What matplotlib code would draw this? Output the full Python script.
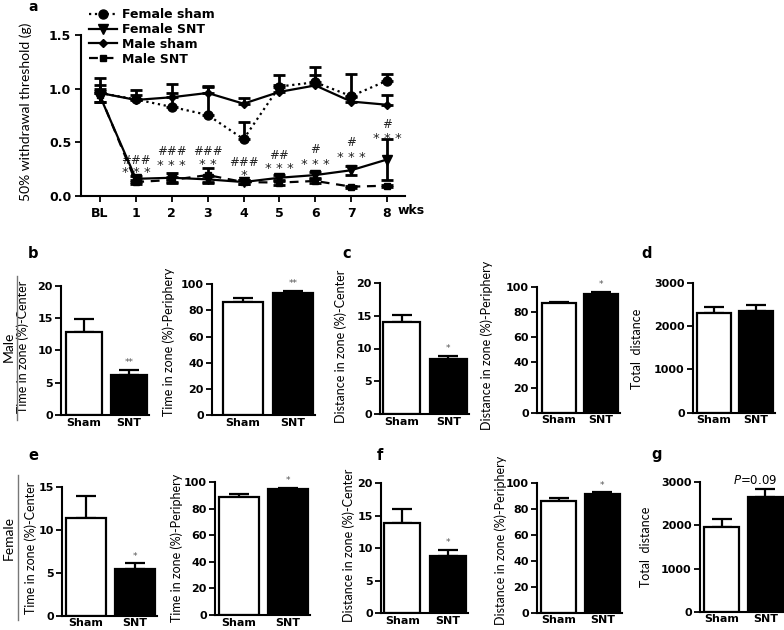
import matplotlib
matplotlib.use("Agg")
import matplotlib.pyplot as plt
from matplotlib.lines import Line2D

# ---------------- data ----------------
weeks = ["BL", "1", "2", "3", "4", "5", "6", "7", "8"]
female_sham = [0.96, 0.90, 0.83, 0.755, 0.53, 1.02, 1.06, 0.93, 1.075]
female_sham_err = [0.14, 0.09, 0.21, 0.27, 0.16, 0.11, 0.14, 0.21, 0.065]
female_snt = [0.93, 0.16, 0.17, 0.155, 0.13, 0.17, 0.195, 0.24, 0.34]
female_snt_err = [0.05, 0.03, 0.04, 0.03, 0.02, 0.03, 0.03, 0.04, 0.19]
male_sham = [0.96, 0.895, 0.92, 0.96, 0.86, 0.97, 1.03, 0.88, 0.85]
male_sham_err = [0.07, 0.05, 0.04, 0.06, 0.05, 0.06, 0.10, 0.04, 0.09]
male_snt = [0.94, 0.13, 0.15, 0.195, 0.13, 0.125, 0.14, 0.087, 0.096]
male_snt_err = [0.06, 0.02, 0.03, 0.065, 0.02, 0.02, 0.02, 0.01, 0.01]
sig_hash = ["", "###", "###", "###", "###", "##", "#", "#", "#"]
sig_star = ["", "* * *", "* * *", "* *", "*", "* * *", "* * *", "* * *", "* * *"]
hash_y = [0, 0.33, 0.41, 0.41, 0.31, 0.38, 0.43, 0.50, 0.67]
star_y = [0, 0.22, 0.28, 0.29, 0.195, 0.26, 0.29, 0.36, 0.54]

groups = ["Sham", "SNT"]
male_time_center = [12.8, 6.2]
male_time_center_err = [2.05, 0.8]
male_time_periph = [86.7, 93.6]
male_time_periph_err = [2.6, 1.3]
male_dist_center = [14.0, 8.4]
male_dist_center_err = [1.1, 0.5]
male_dist_periph = [86.8, 93.9]
male_dist_periph_err = [1.0, 1.9]
male_total = [2308, 2346]
male_total_err = [140, 140]
female_time_center = [11.4, 5.43]
female_time_center_err = [2.5, 0.65]
female_time_periph = [88.7, 94.7]
female_time_periph_err = [2.3, 0.8]
female_dist_center = [13.9, 8.8]
female_dist_center_err = [2.1, 0.95]
female_dist_periph = [85.9, 91.0]
female_dist_periph_err = [2.0, 1.5]
female_total = [1972, 2652]
female_total_err = [178, 186]

# ---------------- layout helpers ----------------
W, H = 784, 630
fig = plt.figure(figsize=(W / 100, H / 100), dpi=100)

TICKFONT = dict(family="DejaVu Sans", weight="bold")
LABFONT = ["Liberation Sans Narrow", "Lato"]


def rect(l, t, r, b):
    return [l / W, 1 - b / H, (r - l) / W, (b - t) / H]


def style_axes(ax):
    for s in ("top", "right"):
        ax.spines[s].set_visible(False)
    for s in ("left", "bottom"):
        ax.spines[s].set_linewidth(1.5)


# ---------------- panel a ----------------
axa = fig.add_axes(rect(81, 35, 405, 196))
style_axes(axa)
x = list(range(len(weeks)))
axa.set_xlim(-0.53, 8.5)
axa.set_ylim(0, 1.5)

zero = [0] * len(x)
ekw = dict(fmt="none", ecolor="black", elinewidth=2, capsize=4, capthick=2, clip_on=False, zorder=3)
axa.errorbar(x, female_sham, yerr=[zero, female_sham_err], **ekw)
axa.errorbar(x, male_sham, yerr=[zero, male_sham_err], **ekw)
axa.errorbar(x, female_snt, yerr=female_snt_err, **ekw)
axa.errorbar(x, male_snt, yerr=male_snt_err, **ekw)

l1, = axa.plot(x, female_sham, color="black", ls=":", lw=1.6, marker="o", ms=6.5, zorder=4, clip_on=False)
l2, = axa.plot(x, female_snt, color="black", ls="-", lw=1.6, marker="v", ms=6.5, zorder=4, clip_on=False)
l3, = axa.plot(x, male_sham, color="black", ls="-", lw=1.6, marker="D", ms=4, zorder=4, clip_on=False)
l4, = axa.plot(x, male_snt, color="black", ls=(0, (4, 3)), lw=1.6, marker="s", ms=5, zorder=4, clip_on=False)

for i in range(len(weeks)):
    if sig_hash[i]:
        axa.text(i, hash_y[i], sig_hash[i], ha="center", va="center", fontsize=8.5, color="#222")
    if sig_star[i]:
        axa.text(i, star_y[i], sig_star[i], ha="center", va="center", fontsize=9.5, color="#222")

axa.set_xticks(x)
axa.set_xticklabels(weeks[:-1] + ["8"], **TICKFONT, fontsize=9)
axa.text(8.28, -0.135, "wks", ha="left", va="center", fontsize=9, **TICKFONT)
axa.set_yticks([0, 0.5, 1.0, 1.5])
axa.set_yticklabels(["0.0", "0.5", "1.0", "1.5"], **TICKFONT, fontsize=9)
axa.tick_params(axis="both", direction="out", length=4, width=1.3, pad=3)
axa.tick_params(axis="x", pad=4)
axa.set_ylabel("50% withdrawal threshold (g)", fontsize=10, family=LABFONT)
axa.yaxis.set_label_coords((32 - 81) / (405 - 81), 0.52)

leg = fig.legend([l1, l2, l3, l4], ["Female sham", "Female SNT", "Male sham", "Male SNT"],
                 loc="upper left", bbox_to_anchor=(89 / W, 1 - 8 / H), frameon=False,
                 handlelength=2.2, handletextpad=0.4, labelspacing=0.15,
                 prop=dict(family="DejaVu Sans", weight="bold", size=9), borderaxespad=0, borderpad=0)

fig.text(33 / W, 1 - 7 / H, "a", fontsize=10, weight="bold", family="DejaVu Sans", ha="center", va="center")


# ---------------- bar panels ----------------
def bar_panel(spine_x, top_y, sham_left, snt_right, bottom_y, vals, errs, ymax, yticks,
              ylabel, label_x, label_y, sig=None):
    ax = fig.add_axes(rect(spine_x, top_y, snt_right + 2, bottom_y))
    style_axes(ax)
    ppu = (snt_right - sham_left) / 1.8
    ax.set_xlim(-0.4 - (sham_left - spine_x) / ppu, 1.4 + 2 / ppu)
    ax.set_ylim(0, ymax)
    ax.bar([0, 1], vals, width=0.8, color=["white", "black"], edgecolor="black", linewidth=1.6, zorder=2)
    ax.errorbar([0, 1], vals, yerr=[[0, 0], errs], fmt="none", ecolor="black", elinewidth=1.6,
                capsize=7.5, capthick=1.6, clip_on=False, zorder=1)
    ax.set_xticks([0, 1])
    ax.set_xticklabels(groups, **TICKFONT, fontsize=8)
    ax.tick_params(axis="x", length=0, pad=2)
    ax.set_yticks(yticks)
    ax.set_yticklabels([str(t) for t in yticks], **TICKFONT, fontsize=8)
    ax.tick_params(axis="y", direction="out", length=4, width=1.3, pad=2)
    ax.set_ylabel(ylabel, fontsize=9, family=LABFONT)
    ax.yaxis.set_label_coords((label_x - spine_x) / (snt_right + 2 - spine_x),
                              (bottom_y - label_y) / (bottom_y - top_y))
    if sig:
        ax.annotate(sig, xy=(1, vals[1] + errs[1]), xytext=(0, 2), textcoords="offset points",
                    ha="center", va="bottom", fontsize=6.5, color="#555", annotation_clip=False)
    return ax


bar_panel(61, 285.7, 66, 147, 415, male_time_center, male_time_center_err, 20, [0, 5, 10, 15, 20],
          "Time in zone (%)-Center", 29, 347, "**")
bar_panel(212, 284.3, 223, 313, 415, male_time_periph, male_time_periph_err, 100, [0, 20, 40, 60, 80, 100],
          "Time in zone (%)-Periphery", 175, 342, "**")
bar_panel(380, 283, 383, 467, 414, male_dist_center, male_dist_center_err, 20, [0, 5, 10, 15, 20],
          "Distance in zone (%)-Center", 347, 346, "*")
bar_panel(537, 286.7, 542, 618, 412.7, male_dist_periph, male_dist_periph_err, 100, [0, 20, 40, 60, 80, 100],
          "Distance in zone (%)-Periphery", 493, 345, "*")
bar_panel(693, 282.7, 697, 773, 412.7, male_total, male_total_err, 3000, [0, 1000, 2000, 3000],
          "Total  distance", 643, 349)

bar_panel(62, 486.7, 66, 155, 615.7, female_time_center, female_time_center_err, 15, [0, 5, 10, 15],
          "Time in zone (%)-Center", 37, 548, "*")
bar_panel(215, 482.3, 219, 308, 615, female_time_periph, female_time_periph_err, 100, [0, 20, 40, 60, 80, 100],
          "Time in zone (%)-Periphery", 183, 548, "*")
bar_panel(381, 483.3, 384, 466, 613.3, female_dist_center, female_dist_center_err, 20, [0, 5, 10, 15, 20],
          "Distance in zone (%)-Center", 355, 545, "*")
bar_panel(537, 482.7, 541, 620, 612.7, female_dist_periph, female_dist_periph_err, 100, [0, 20, 40, 60, 80, 100],
          "Distance in zone (%)-Periphery", 507, 540, "*")
axg = bar_panel(700, 482.3, 704, 783, 611.7, female_total, female_total_err, 3000, [0, 1000, 2000, 3000],
                "Total  distance", 652, 547)
axg.text(0.76, 3050, r"$\mathit{P}$=0.09", ha="center", va="center", fontsize=8.5, clip_on=False)

# panel letters
for lab, px, py in [("b", 33, 253), ("c", 347, 253), ("d", 647, 253),
                    ("e", 33, 455), ("f", 380, 455), ("g", 657, 455)]:
    fig.text(px / W, 1 - py / H, lab, fontsize=10.5, weight="bold", family="DejaVu Sans",
             ha="center", va="center")

# group labels
fig.text(9 / W, 1 - 347 / H, "Male", rotation=90, fontsize=10, family=LABFONT, ha="center", va="center")
fig.text(9 / W, 1 - 538 / H, "Female", rotation=90, fontsize=10, family=LABFONT, ha="center", va="center")
fig.add_artist(Line2D([17 / W, 17 / W], [1 - 276 / H, 1 - 420 / H], color="#777", lw=1))
fig.add_artist(Line2D([18 / W, 18 / W], [1 - 475 / H, 1 - 620 / H], color="#777", lw=1))

fig.savefig("out.png", dpi=100)
